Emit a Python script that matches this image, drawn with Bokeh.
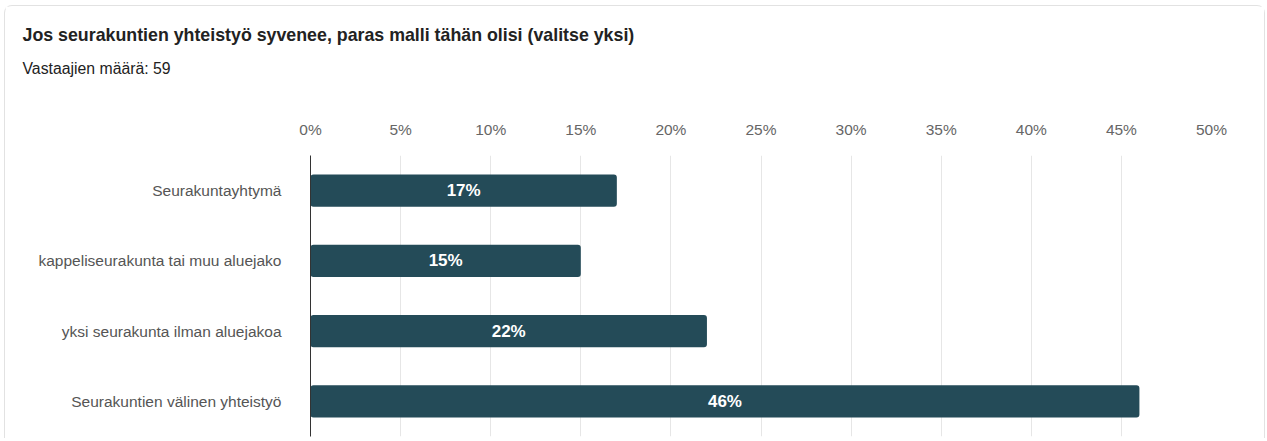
from bokeh.plotting import figure
from bokeh.models import FactorRange, Range1d, Title, ColumnDataSource, FixedTicker, LabelSet
from bokeh.embed import file_html
from bokeh.resources import INLINE
from bokeh.core.properties import value

title_text = "Jos seurakuntien yhteistyö syvenee, paras malli tähän olisi (valitse yksi)"
subtitle_text = "Vastaajien määrä: 59"
categories = ["Seurakuntayhtymä", "kappeliseurakunta tai muu aluejako",
              "yksi seurakunta ilman aluejakoa", "Seurakuntien välinen yhteistyö"]
values = [17, 15, 22, 46]
tick_values = [0, 5, 10, 15, 20, 25, 30, 35, 40, 45, 50]

FONT = "Liberation Sans"
W, H = 1261, 433
FL, FR, FT, FB = 305, 55, 149, 3

src = ColumnDataSource(dict(cat=categories, val=values,
                            mid=[v / 2 for v in values],
                            lab=[f"{v}%" for v in values]))

p = figure(width=W, height=H, output_backend="svg", toolbar_location=None,
           y_range=FactorRange(factors=list(reversed(categories)), range_padding=0),
           x_range=Range1d(0, 50), x_axis_location="above",
           min_border_left=FL, min_border_right=FR, min_border_top=FT, min_border_bottom=FB)
p.outline_line_color = None
p.background_fill_color = "white"
p.border_fill_color = "white"
p.styles = {"border": "1.5px solid #e2e2e2", "border-bottom": "none",
            "border-radius": "8px 8px 0 0", "margin-left": "4px", "margin-top": "5px"}

p.hbar(y="cat", right="val", left=0, height=0.46, source=src,
       fill_color="#244B58", line_color=None, border_radius=3)

p.add_layout(LabelSet(x="mid", y="cat", text="lab", source=src,
                      text_align="center", text_baseline="middle",
                      text_color="white", text_font=value(FONT),
                      text_font_size="17px", text_font_style="bold"))

xa = p.xaxis[0]
xa.ticker = FixedTicker(ticks=tick_values)
xa.major_label_overrides = {t: f"{t}%" for t in tick_values}
xa.axis_line_color = None
xa.major_tick_line_color = None
xa.minor_tick_line_color = None
xa.major_label_text_font = FONT
xa.major_label_text_font_size = "15.5px"
xa.major_label_text_color = "#666666"
xa.major_label_standoff = 12

ya = p.yaxis[0]
ya.axis_line_color = "#333333"
ya.axis_line_width = 1
ya.major_tick_line_color = None
ya.minor_tick_line_color = None
ya.major_label_text_font = FONT
ya.major_label_text_font_size = "15.5px"
ya.major_label_text_color = "#555555"
ya.major_label_standoff = 23

p.xgrid.grid_line_color = "#e6e6e6"
p.ygrid.grid_line_color = None

# title (outermost), subtitle, and a blank spacer between subtitle and axis
p.title.text = title_text
p.title.align = "left"
p.title.offset = 23 - 311
p.title.text_font = FONT
p.title.text_font_size = "17.8px"
p.title.text_font_style = "bold"
p.title.text_color = "#222222"
p.title.standoff = 1

spacer = Title(text=" ", align="left", text_font=FONT, text_font_size="15.5px",
               text_color="#ffffff", standoff=9)
p.add_layout(spacer, "above")

sub = Title(text=subtitle_text, align="left", offset=23 - 311, text_font=FONT,
            text_font_size="15.8px", text_font_style="normal", text_color="#222222",
            standoff=25)
p.add_layout(sub, "above")

open("out.html", "w").write(file_html(p, INLINE))
